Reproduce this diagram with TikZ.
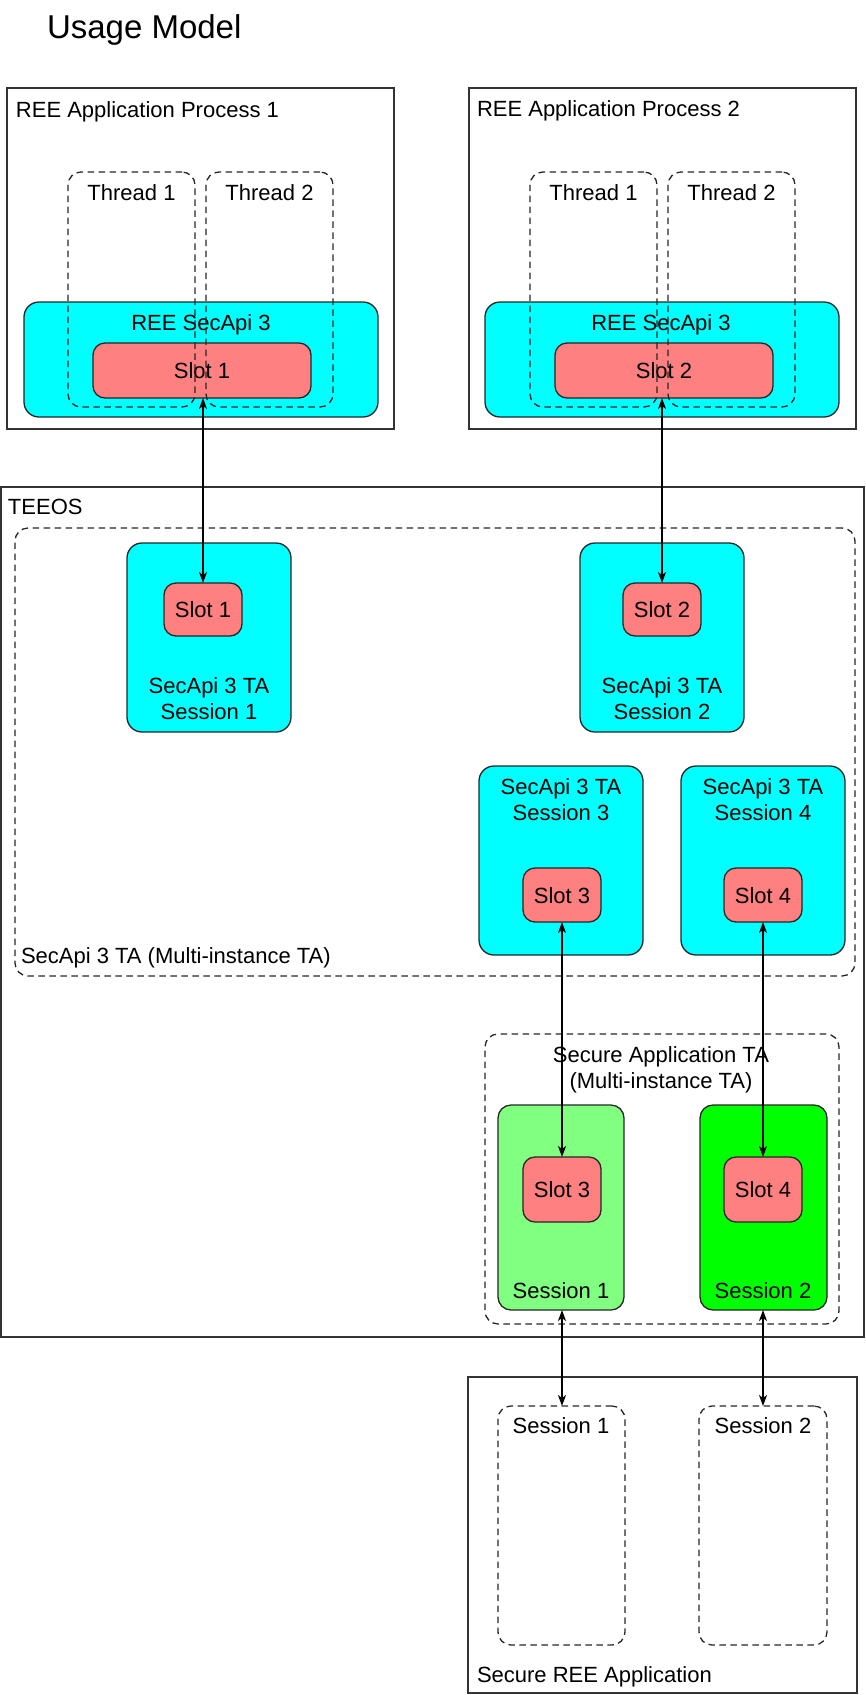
\documentclass[tikz,border=0pt]{standalone}
\usepackage{fontspec}
\setmainfont{Liberation Sans}
\usetikzlibrary{arrows.meta}
\definecolor{tacyan}{HTML}{00FFFF}
\definecolor{slotred}{HTML}{FF8080}
\definecolor{lightgreen}{HTML}{80FF80}
\definecolor{puregreen}{HTML}{00FF00}
\definecolor{edge}{HTML}{333333}
\newcommand{\lblfont}{\fontsize{22}{26}\selectfont}
\tikzset{
  every node/.style={inner sep=0pt, outer sep=0pt, font=\lblfont},
  frame/.style={draw=edge, line width=1.3pt, rectangle, anchor=north west},
  dbox/.style={draw=black!85, line width=1.3pt, dash pattern=on 6.5pt off 4.5pt,
               rounded corners=13pt, rectangle, anchor=north west},
  rbox/.style={draw=black!85, line width=1.3pt, rounded corners=13pt,
               rectangle, anchor=north west},
  cyanbox/.style={rbox, fill=tacyan, rounded corners=15pt},
  slotbox/.style={rbox, fill=slotred, rounded corners=12pt},
  txt/.style={anchor=base},
  ltxt/.style={anchor=base west},
  link/.style={draw=black, line width=1.3pt,
               {Stealth[length=11pt,width=8pt,inset=3pt]}-{Stealth[length=11pt,width=8pt,inset=3pt]}}
}
\begin{document}
\begin{tikzpicture}[x=1pt,y=-1pt]
\useasboundingbox (0,0) rectangle (865,1695);

% title
\node[ltxt, font=\fontsize{33}{40}\selectfont] (title) at (47,38) {Usage Model};

% ---- TEEOS ----
\node[frame, minimum width=863, minimum height=850] (teeos) at (1,487) {};
\node[ltxt] (teeoslbl) at (8,514) {TEEOS};

\node[dbox, minimum width=840, minimum height=448] (ta) at (15,528) {};
\node[ltxt] (talbl) at (21,963) {SecApi 3 TA (Multi-instance TA)};

% TA sessions 1 and 2 (two-line labels are anchored on their last line)
\node[cyanbox, minimum width=164, minimum height=189] (tas1) at (127,543) {};
\node[slotbox, minimum width=78, minimum height=53] (taslot1) at (164,583) {};
\node[txt] (taslot1t) at (203,617) {Slot 1};
\node[txt, align=center] (tas1t) at (209,719) {SecApi 3 TA\\Session 1};

\node[cyanbox, minimum width=164, minimum height=189] (tas2) at (580,543) {};
\node[slotbox, minimum width=78, minimum height=53] (taslot2) at (623,583) {};
\node[txt] (taslot2t) at (662,617) {Slot 2};
\node[txt, align=center] (tas2t) at (662,719) {SecApi 3 TA\\Session 2};

% TA sessions 3 and 4
\node[cyanbox, minimum width=164, minimum height=189] (tas3) at (479,766) {};
\node[txt, align=center] (tas3t) at (561,820) {SecApi 3 TA\\Session 3};
\node[slotbox, minimum width=78, minimum height=54] (taslot3) at (523,868) {};
\node[txt] (taslot3t) at (562,903) {Slot 3};

\node[cyanbox, minimum width=164, minimum height=189] (tas4) at (681,766) {};
\node[txt, align=center] (tas4t) at (763,820) {SecApi 3 TA\\Session 4};
\node[slotbox, minimum width=78, minimum height=54] (taslot4) at (724,868) {};
\node[txt] (taslot4t) at (763,903) {Slot 4};

% secure application TA
\node[dbox, minimum width=354, minimum height=290] (sapp) at (485,1034) {};
\node[txt, align=center] (sappt) at (661,1088) {Secure Application TA\\(Multi-instance TA)};

\node[rbox, fill=lightgreen, minimum width=126, minimum height=205] (gs1) at (498,1105) {};
\node[slotbox, minimum width=78, minimum height=65] (gslot3) at (523,1157) {};
\node[txt] (gslot3t) at (562,1197) {Slot 3};
\node[txt] (gs1t) at (561,1298) {Session 1};

\node[rbox, fill=puregreen, minimum width=127, minimum height=205] (gs2) at (700,1105) {};
\node[slotbox, minimum width=78, minimum height=65] (gslot4) at (724,1157) {};
\node[txt] (gslot4t) at (763,1197) {Slot 4};
\node[txt] (gs2t) at (763,1298) {Session 2};

% ---- Secure REE application ----
\node[frame, minimum width=389, minimum height=316] (sree) at (468,1377) {};
\node[ltxt] (sreet) at (477,1682) {Secure REE Application};
\node[dbox, minimum width=127, minimum height=239] (rs1) at (498,1406) {};
\node[txt] (rs1t) at (561,1433) {Session 1};
\node[dbox, minimum width=128, minimum height=239] (rs2) at (699,1406) {};
\node[txt] (rs2t) at (763,1433) {Session 2};

% ---- REE application processes ----
\node[frame, minimum width=387, minimum height=341] (p1) at (7,88) {};
\node[ltxt] (p1t) at (16,117) {REE Application Process 1};
\node[cyanbox, minimum width=354, minimum height=115] (api1) at (24,302) {};
\node[txt] (api1t) at (201,330) {REE SecApi 3};
\node[slotbox, minimum width=218, minimum height=55] (rslot1) at (93,343) {};
\node[txt] (rslot1t) at (202,378) {Slot 1};
\node[dbox, minimum width=127, minimum height=235] (th11) at (68,172) {};
\node[txt] (th11t) at (131.5,200) {Thread 1};
\node[dbox, minimum width=127, minimum height=235] (th12) at (206,172) {};
\node[txt] (th12t) at (269.5,200) {Thread 2};

\node[frame, minimum width=387, minimum height=341] (p2) at (469,88) {};
\node[ltxt] (p2t) at (477,116) {REE Application Process 2};
\node[cyanbox, minimum width=354, minimum height=115] (api2) at (485,302) {};
\node[txt] (api2t) at (661,330) {REE SecApi 3};
\node[slotbox, minimum width=218, minimum height=55] (rslot2) at (555,343) {};
\node[txt] (rslot2t) at (664,378) {Slot 2};
\node[dbox, minimum width=127, minimum height=235] (th21) at (530,172) {};
\node[txt] (th21t) at (593.5,200) {Thread 1};
\node[dbox, minimum width=127, minimum height=235] (th22) at (668,172) {};
\node[txt] (th22t) at (731.5,200) {Thread 2};

% ---- connectors ----
\draw[link] (taslot1.north |- rslot1.south) -- (taslot1.north);
\draw[link] (taslot2.north |- rslot2.south) -- (taslot2.north);
\draw[link] (taslot3.south) -- (gslot3.north);
\draw[link] (taslot4.south) -- (gslot4.north);
\draw[link] (gslot3.south |- gs1.south) -- (gslot3.south |- rs1.north);
\draw[link] (gslot4.south |- gs2.south) -- (gslot4.south |- rs2.north);
\end{tikzpicture}
\end{document}
